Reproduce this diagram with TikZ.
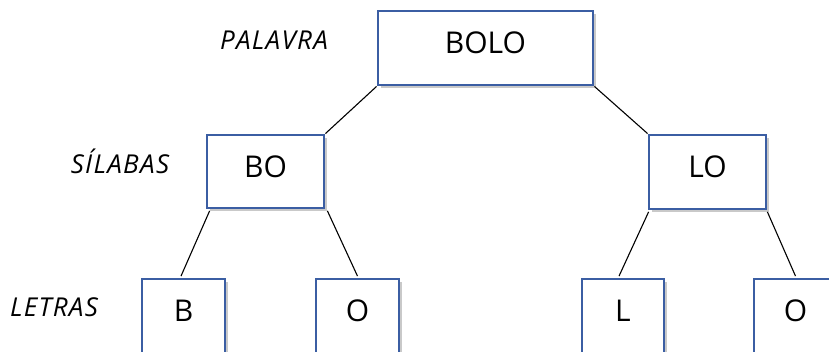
\documentclass[tikz,border=0pt]{standalone}
\usepackage{fontspec}
\setmainfont{Open Sans}
\usetikzlibrary{shadows}
\definecolor{boxblue}{HTML}{3B5EA3}
\tikzset{
  box/.style={draw=boxblue, line width=2.8pt, fill=white, rectangle,
    inner sep=0pt, text height=21.4pt, text depth=10pt,
    font=\fontsize{30}{36}\selectfont,
    drop shadow={shadow xshift=3pt, shadow yshift=-3pt, opacity=0.3, fill=black!70}},
  lbl/.style={inner sep=0pt, text height=18.5pt, text depth=0pt,
    font=\fontsize{26}{30}\selectfont\itshape\addfontfeature{LetterSpace=5}},
  conn/.style={draw=black, line width=1.1pt}
}
\begin{document}
\begin{tikzpicture}[x=1pt,y=-1pt]
\useasboundingbox (0,0) rectangle (829,352);
\clip (0,0) rectangle (829,352);
\node[box, minimum width=215pt, minimum height=74pt] (bolo) at (485.5,48) {BOLO};
\node[box, minimum width=117pt, minimum height=73pt] (bo) at (265.5,171.5) {BO};
\node[box, minimum width=117pt, minimum height=74pt] (lo) at (707.5,172) {LO};
\node[box, minimum width=83pt, minimum height=74pt] (b) at (183.5,316) {B};
\node[box, minimum width=83pt, minimum height=74pt] (o1) at (357.5,316) {O};
\node[box, minimum width=82pt, minimum height=74pt] (l) at (623,316) {L};
\node[box, minimum width=83pt, minimum height=74pt] (o2) at (795.5,316) {O};
\node[lbl] (palavra) at (274,40) {PALAVRA};
\node[lbl] (silabas) at (120,164) {SÍLABAS};
\node[lbl] (letras) at (54,307) {LETRAS};
\draw[conn] (bolo.south west) -- (bo.north east);
\draw[conn] (bolo.south east) -- (lo.north west);
\draw[conn] ([xshift=4pt,yshift=-1.5pt]bo.south west) -- ([xshift=-2.5pt,yshift=1.5pt]b.north);
\draw[conn] ([xshift=2pt,yshift=-1.5pt]bo.south east) -- ([yshift=1.5pt]o1.north);
\draw[conn] ([xshift=1pt,yshift=-1.5pt]lo.south west) -- ([xshift=-4pt,yshift=1.5pt]l.north);
\draw[conn] ([yshift=-1.5pt]lo.south east) -- ([yshift=1.5pt]o2.north);
\end{tikzpicture}
\end{document}
